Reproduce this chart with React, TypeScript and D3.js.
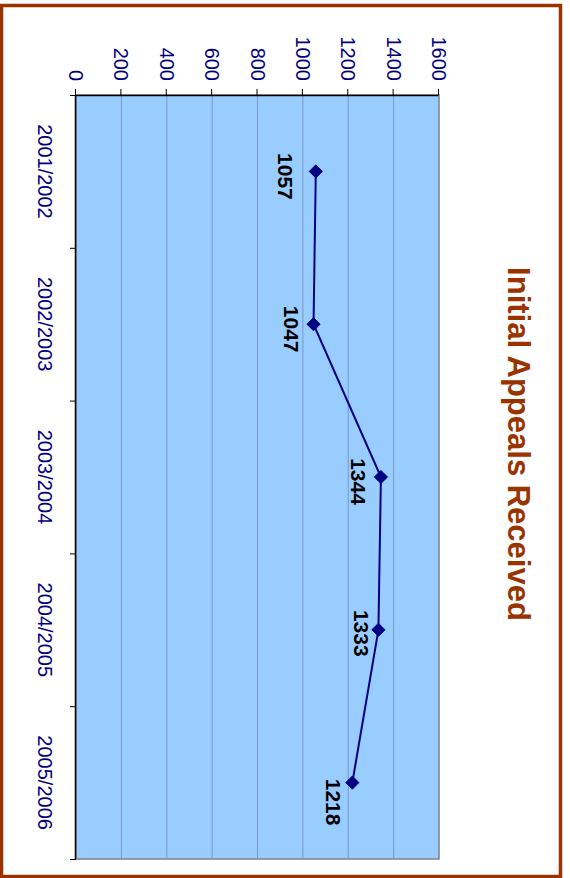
import React, { useEffect, useRef } from "react";
import * as d3 from "d3";

const categories = ["2001/2002", "2002/2003", "2003/2004", "2004/2005", "2005/2006"];
const appeals = [1057, 1047, 1344, 1333, 1218];
const valueTicks = [0, 200, 400, 600, 800, 1000, 1200, 1400, 1600];
const title = "Initial Appeals Received";

// per-label nudges (dx along category axis, gap below point)
const labelDx = [5, 5, 4.5, 3.5, 19.5];
const labelGap = [23, 15, 15, 9, 11];

const W = 570;
const H = 878;

export default function App() {
  const ref = useRef<SVGSVGElement>(null);

  useEffect(() => {
    const svg = d3.select(ref.current);
    svg.selectAll("*").remove();

    // outer border (screen coords)
    svg
      .append("rect")
      .attr("x", 1.5)
      .attr("y", 5.5)
      .attr("width", 559)
      .attr("height", 871)
      .attr("fill", "#ffffff")
      .attr("stroke", "#993300")
      .attr("stroke-width", 3.5);

    // chart drawn in landscape frame, rotated 90° clockwise
    const g = svg.append("g").attr("transform", `translate(${W},0) rotate(90)`);

    const left = 95;
    const right = 859;
    const top = 131;
    const bottom = 494;

    const x = d3.scaleBand<string>().domain(categories).range([left, right]).padding(0);
    const xi = d3.scaleLinear().domain([0, categories.length]).range([left, right]);
    const y = d3.scaleLinear().domain([0, 1600]).range([bottom, top]);

    const font = "'Liberation Sans', Arial, sans-serif";

    // plot area
    g.append("rect")
      .attr("x", left)
      .attr("y", top)
      .attr("width", right - left)
      .attr("height", bottom - top)
      .attr("fill", "#99CCFF")
      .attr("stroke", "#808080")
      .attr("stroke-width", 1.5);

    // gridlines
    g.append("g")
      .selectAll("line")
      .data(valueTicks.filter((v) => v > 0 && v < 1600))
      .join("line")
      .attr("x1", left)
      .attr("x2", right)
      .attr("y1", (d) => y(d))
      .attr("y2", (d) => y(d))
      .attr("stroke", "#7899c6")
      .attr("stroke-width", 1);

    // value axis
    const yAxis = g
      .append("g")
      .attr("transform", `translate(${left},0)`)
      .call(
        d3
          .axisLeft(y)
          .tickValues(valueTicks)
          .tickSize(6)
          .tickSizeOuter(0)
          .tickPadding(8)
          .tickFormat(d3.format("d"))
      );
    yAxis.select(".domain").attr("stroke", "#000").attr("stroke-width", 1.5);
    yAxis.selectAll(".tick line").attr("stroke", "#000").attr("stroke-width", 1);
    yAxis
      .selectAll("text")
      .attr("fill", "#000080")
      .attr("font-family", font)
      .attr("font-size", 20);

    // category axis ticks at boundaries
    const xTicks = g
      .append("g")
      .attr("transform", `translate(0,${bottom})`)
      .call(
        d3
          .axisBottom(xi)
          .tickValues(d3.range(categories.length + 1))
          .tickSize(6)
          .tickSizeOuter(0)
          .tickFormat(() => "")
      );
    xTicks.select(".domain").attr("stroke", "#000").attr("stroke-width", 1.5);
    xTicks.selectAll(".tick line").attr("stroke", "#000").attr("stroke-width", 1);

    // category labels
    const xLabels = g
      .append("g")
      .attr("transform", `translate(0,${bottom})`)
      .call(d3.axisBottom(x).tickSize(0).tickPadding(24));
    xLabels.select(".domain").remove();
    xLabels
      .selectAll("text")
      .attr("fill", "#000080")
      .attr("font-family", font)
      .attr("font-size", 20);

    // line
    const pts = appeals.map((v, i) => [x(categories[i])! + x.bandwidth() / 2, y(v)] as [number, number]);
    g.append("path")
      .attr("d", d3.line()(pts))
      .attr("fill", "none")
      .attr("stroke", "#000080")
      .attr("stroke-width", 2);

    // markers
    g.append("g")
      .selectAll("path")
      .data(pts)
      .join("path")
      .attr("transform", (d) => `translate(${d[0]},${d[1]})`)
      .attr("d", d3.symbol(d3.symbolDiamond2, 110)())
      .attr("fill", "#000080")
      .attr("stroke", "#000080")
      .attr("stroke-width", 1);

    // data labels
    g.append("g")
      .selectAll("text")
      .data(appeals)
      .join("text")
      .attr("x", (d, i) => pts[i][0] + labelDx[i])
      .attr("y", (d, i) => pts[i][1] + labelGap[i] + 15)
      .attr("text-anchor", "middle")
      .attr("font-family", font)
      .attr("font-size", 21)
      .attr("font-weight", "bold")
      .attr("fill", "#000000")
      .text((d) => String(d));

    // title
    g.append("text")
      .attr("x", 444)
      .attr("y", 62)
      .attr("text-anchor", "middle")
      .attr("font-family", font)
      .attr("font-size", 31)
      .attr("font-weight", "bold")
      .attr("fill", "#993300")
      .text(title);
  }, []);

  return (
    <svg
      ref={ref}
      width={W}
      height={H}
      style={{ position: "absolute", left: 0, top: 0, background: "#ffffff" }}
    />
  );
}
